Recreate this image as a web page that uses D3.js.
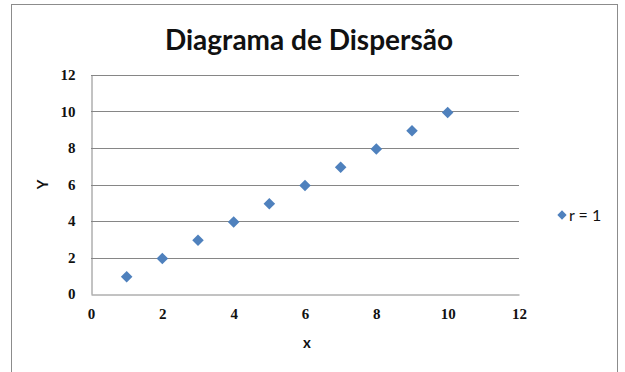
<!DOCTYPE html>
<html>
<head>
<meta charset="utf-8">
<script src="https://cdn.jsdelivr.net/npm/d3@7"></script>
<style>
  html, body { margin: 0; padding: 0; background: #fff; }
  svg { display: block; }
</style>
</head>
<body>
<svg id="chart" width="625" height="372"></svg>
<script>
// Scatter data: x and y values of each point
const xValues = [1, 2, 3, 4, 5, 6, 7, 8, 9, 10];
const yValues = [1, 2, 3, 4, 5, 6, 7, 8, 9, 10];
const xTicks = [0, 2, 4, 6, 8, 10, 12];
const yTicks = [0, 2, 4, 6, 8, 10, 12];
const seriesName = "r = 1";
const titleText = "Diagrama de Dispersão";

const svg = d3.select("#chart");
const markColor = "#4F81BD";
const tickFont = "'Liberation Serif', serif";
const titleFont = "Lato, 'Open Sans', sans-serif";

// outer chart frame
svg.append("rect")
  .attr("x", 11.5).attr("y", 4.5)
  .attr("width", 606).attr("height", 372)
  .attr("fill", "#fff").attr("stroke", "#8c8c8c").attr("stroke-width", 1);

const x = d3.scaleLinear().domain([0, 12]).range([91, 519]);
const y = d3.scaleLinear().domain([0, 12]).range([294, 75]);

// horizontal gridlines
svg.append("g")
  .selectAll("line")
  .data(yTicks.filter(d => d > 0))
  .join("line")
  .attr("x1", x(0)).attr("x2", x(12))
  .attr("y1", d => Math.round(y(d)) + 0.5)
  .attr("y2", d => Math.round(y(d)) + 0.5)
  .attr("stroke", "#868686").attr("stroke-width", 1);

// axes
const xAxis = d3.axisBottom(x).tickValues(xTicks).tickSize(0).tickPadding(14);
const yAxis = d3.axisLeft(y).tickValues(yTicks).tickSize(0).tickPadding(16);

const gx = svg.append("g").attr("transform", `translate(0,${Math.round(y(0)) + 0.5})`).call(xAxis);
const gy = svg.append("g").attr("transform", `translate(${Math.round(x(0)) + 0.5},0)`).call(yAxis);

[gx, gy].forEach(g => {
  g.select(".domain").attr("stroke", "#868686").attr("stroke-width", 1);
  g.selectAll("text")
    .attr("fill", "#111")
    .style("font-family", tickFont)
    .style("font-weight", "bold")
    .style("font-size", "15px");
});

// title
svg.append("text")
  .attr("x", 309).attr("y", 50)
  .attr("text-anchor", "middle")
  .style("font-family", titleFont)
  .style("font-weight", "bold")
  .style("font-size", "28px")
  .attr("fill", "#111")
  .text(titleText);

// axis titles
svg.append("text")
  .attr("transform", `translate(48,${y(6)}) rotate(-90)`)
  .attr("text-anchor", "middle")
  .style("font-family", "Lato, sans-serif")
  .style("font-weight", "bold")
  .style("font-size", "15px")
  .attr("fill", "#111")
  .text("Y");

svg.append("text")
  .attr("x", x(6) + 2).attr("y", 348)
  .attr("text-anchor", "middle")
  .style("font-family", "Lato, sans-serif")
  .style("font-weight", "bold")
  .style("font-size", "15px")
  .attr("fill", "#111")
  .text("x");

// points
const diamond = d3.symbol().type(d3.symbolDiamond2).size(85);
svg.append("g")
  .selectAll("path")
  .data(xValues.map((v, i) => [v, yValues[i]]))
  .join("path")
  .attr("d", diamond)
  .attr("transform", d => `translate(${x(d[0])},${y(d[1]) + 1})`)
  .attr("fill", markColor);

// legend
const legend = svg.append("g").attr("transform", "translate(562,215)");
legend.append("path")
  .attr("d", d3.symbol().type(d3.symbolDiamond2).size(55))
  .attr("fill", markColor);
legend.append("text")
  .attr("x", 7).attr("y", 5.5)
  .style("font-family", "Lato, sans-serif")
  .style("font-size", "16px")
  .attr("fill", "#111")
  .text(seriesName);
</script>
</body>
</html>
